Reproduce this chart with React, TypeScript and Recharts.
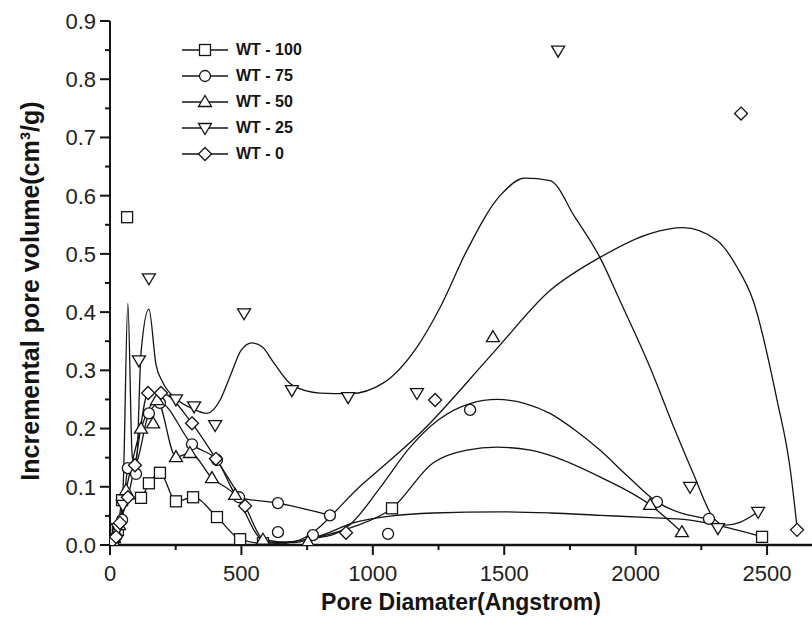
import { ComposedChart, Label, Legend, Line, Scatter, XAxis, YAxis } from "recharts";

type XY = [number, number];

// measured markers (pore diameter in Angstrom, volume in cm3/g)
const WT100_POINTS: XY[] = [
  [11, 0.007], [30, 0.026], [46, 0.077], [65, 0.563], [118, 0.081], [148, 0.106],
  [190, 0.124], [251, 0.075], [316, 0.082], [407, 0.048], [495, 0.01], [582, 0.003],
  [1073, 0.063], [2481, 0.014],
];
const WT75_POINTS: XY[] = [
  [23, 0.014], [46, 0.043], [68, 0.132], [99, 0.122], [148, 0.226], [190, 0.244],
  [312, 0.173], [407, 0.146], [491, 0.082], [639, 0.072], [639, 0.022], [772, 0.017],
  [837, 0.051], [1058, 0.019], [1370, 0.232], [2081, 0.074], [2279, 0.045],
];
const WT50_POINTS: XY[] = [
  [15, 0.012], [34, 0.034], [61, 0.094], [118, 0.2], [164, 0.209], [179, 0.249],
  [251, 0.151], [304, 0.158], [388, 0.115], [476, 0.086], [582, 0.009], [753, 0.005],
  [1457, 0.357], [2055, 0.069], [2176, 0.022],
];
const WT25_POINTS: XY[] = [
  [11, 0.009], [30, 0.029], [49, 0.069], [110, 0.317], [148, 0.458], [251, 0.25],
  [320, 0.238], [400, 0.206], [510, 0.398], [692, 0.266], [906, 0.254], [1168, 0.261],
  [1705, 0.849], [2207, 0.1], [2313, 0.029], [2466, 0.057],
];
const WT0_POINTS: XY[] = [
  [8, 0.007], [23, 0.014], [38, 0.038], [68, 0.082], [95, 0.137], [145, 0.261],
  [194, 0.261], [312, 0.209], [403, 0.148], [514, 0.067], [898, 0.021], [1237, 0.249],
  [2401, 0.741], [2614, 0.026],
];

// fitted curves
const WT100_CURVE: XY[] = [
  [0, 0], [11, 0.007], [30, 0.026], [46, 0.077], [118, 0.081], [148, 0.106],
  [190, 0.124], [251, 0.075], [316, 0.082], [407, 0.048], [495, 0.01], [582, 0.003],
  [700, 0.006], [800, 0.016], [925, 0.038], [1073, 0.05], [1229, 0.055], [1484, 0.057],
  [1674, 0.055], [1865, 0.051], [2055, 0.047], [2200, 0.043], [2300, 0.035], [2481, 0.014],
];
const WT75_CURVE: XY[] = [
  [0, 0], [23, 0.014], [46, 0.043], [68, 0.13], [99, 0.14], [148, 0.226], [190, 0.244],
  [312, 0.173], [407, 0.146], [491, 0.082], [639, 0.072], [837, 0.051],
];
const WT75_HUMP: XY[] = [
  [780, 0.012], [860, 0.02], [913, 0.035], [1030, 0.1], [1142, 0.168], [1250, 0.215],
  [1370, 0.243], [1473, 0.25], [1580, 0.243], [1674, 0.226], [1770, 0.197], [1864, 0.163],
  [1970, 0.118], [2081, 0.074], [2279, 0.045],
];
const WT50_CURVE: XY[] = [
  [0, 0], [15, 0.012], [34, 0.034], [61, 0.094], [118, 0.2], [179, 0.249], [251, 0.151],
  [304, 0.158], [388, 0.115], [476, 0.086], [582, 0.009], [700, 0.004], [780, 0.012],
  [925, 0.031], [1073, 0.063], [1229, 0.141], [1358, 0.163], [1473, 0.168], [1600, 0.163],
  [1674, 0.154], [1864, 0.117], [2055, 0.069], [2176, 0.022],
];
const WT25_CURVE: XY[] = [
  [0, 0], [30, 0.02], [50, 0.1], [68, 0.415], [85, 0.15], [100, 0.14], [118, 0.33],
  [148, 0.405], [175, 0.31], [200, 0.28], [255, 0.25], [310, 0.235], [369, 0.226],
  [420, 0.25], [457, 0.29], [500, 0.335], [540, 0.347], [580, 0.34], [620, 0.315],
  [692, 0.275], [799, 0.261], [913, 0.26], [1039, 0.278], [1168, 0.34], [1256, 0.408],
  [1358, 0.506], [1484, 0.6], [1579, 0.63], [1674, 0.626], [1769, 0.563], [1864, 0.494],
  [1940, 0.42], [2055, 0.305], [2150, 0.197], [2218, 0.124], [2294, 0.048], [2340, 0.034],
  [2397, 0.039], [2466, 0.057],
];
const WT0_CURVE: XY[] = [
  [0, 0], [8, 0.007], [23, 0.014], [38, 0.038], [68, 0.082], [95, 0.137], [145, 0.261],
  [194, 0.261], [312, 0.209], [403, 0.148], [514, 0.067], [582, 0.01], [650, 0.002],
  [723, 0.009], [957, 0.103], [1191, 0.197], [1458, 0.33], [1674, 0.437], [1864, 0.494],
  [2055, 0.535], [2180, 0.545], [2310, 0.523], [2386, 0.477], [2447, 0.42], [2538, 0.249],
  [2587, 0.134], [2614, 0.031],
];

const X_TICKS = [0, 250, 500, 750, 1000, 1250, 1500, 1750, 2000, 2250, 2500];
const Y_TICKS = [0, 0.05, 0.1, 0.15, 0.2, 0.25, 0.3, 0.35, 0.4, 0.45, 0.5, 0.55, 0.6, 0.65, 0.7, 0.75, 0.8, 0.85, 0.9];

type Kind = "square" | "circle" | "up" | "down" | "diamond";

const SERIES: { name: string; kind: Kind; points: XY[]; curves: XY[][] }[] = [
  { name: "WT - 100", kind: "square", points: WT100_POINTS, curves: [WT100_CURVE] },
  { name: "WT - 75", kind: "circle", points: WT75_POINTS, curves: [WT75_CURVE, WT75_HUMP] },
  { name: "WT - 50", kind: "up", points: WT50_POINTS, curves: [WT50_CURVE] },
  { name: "WT - 25", kind: "down", points: WT25_POINTS, curves: [WT25_CURVE] },
  { name: "WT - 0", kind: "diamond", points: WT0_POINTS, curves: [WT0_CURVE] },
];

const INK = "#141414";
const FONT = '"Liberation Sans", Arial, Helvetica, sans-serif';

const W = 812;
const H = 637;
const MARGIN = { top: 21, right: 0, left: 0, bottom: 22 };
const X_AXIS_H = 70;
const Y_AXIS_W = 110;
const PLOT_BOTTOM = H - MARGIN.bottom - X_AXIS_H;

const toXY = (d: XY[]) => d.map(([x, y]) => ({ x, y }));

function Marker({ kind, cx, cy }: { kind: Kind; cx: number; cy: number }) {
  const r = 5.5;
  const st = { fill: "#fff", stroke: INK, strokeWidth: 1.3 };
  if (kind === "square") return <rect x={cx - r} y={cy - r} width={2 * r} height={2 * r} {...st} />;
  if (kind === "circle") return <circle cx={cx} cy={cy} r={r} {...st} />;
  if (kind === "up")
    return <polygon points={`${cx},${cy - r - 1} ${cx + r + 1},${cy + r - 1} ${cx - r - 1},${cy + r - 1}`} {...st} />;
  if (kind === "down")
    return <polygon points={`${cx - r - 1},${cy - r + 1} ${cx + r + 1},${cy - r + 1} ${cx},${cy + r + 1}`} {...st} />;
  return <polygon points={`${cx},${cy - r - 1} ${cx + r + 1},${cy} ${cx},${cy + r + 1} ${cx - r - 1},${cy}`} {...st} />;
}

// x ticks are drawn off the plot bottom so minor marks can be shorter
function XTick({ x, payload }: any) {
  const major = payload.value % 500 === 0;
  const y = PLOT_BOTTOM;
  return (
    <g>
      <line x1={x} y1={y} x2={x} y2={y + (major ? 10 : 5)} stroke={INK} strokeWidth={2} />
      {major && (
        <text x={x} y={y + 36} textAnchor="middle" fontSize={22} fill="#222" fontFamily={FONT}>
          {payload.value}
        </text>
      )}
    </g>
  );
}

function YTick({ y, payload }: any) {
  const major = Math.round(payload.value * 100) % 10 === 0;
  const x = Y_AXIS_W;
  return (
    <g>
      <line x1={x} y1={y} x2={x - (major ? 10 : 5)} y2={y} stroke={INK} strokeWidth={2} />
      {major && (
        <text x={x - 14} y={y} dy="0.36em" textAnchor="end" fontSize={22} fill="#222" fontFamily={FONT}>
          {payload.value.toFixed(1)}
        </text>
      )}
    </g>
  );
}

function LegendBox() {
  return (
    <div style={{ fontFamily: FONT, fontWeight: 700, fontSize: 16, color: INK }}>
      {SERIES.map((s) => (
        <div key={s.name} style={{ display: "flex", alignItems: "center", height: 26 }}>
          <svg width={48} height={16}>
            <line x1={0} y1={8} x2={46} y2={8} stroke={INK} strokeWidth={1.3} />
            <Marker kind={s.kind} cx={23} cy={8} />
          </svg>
          <span style={{ marginLeft: 6 }}>{s.name}</span>
        </div>
      ))}
    </div>
  );
}

export default function App() {
  return (
    <div style={{ position: "fixed", left: 0, top: 0, width: W, height: H, background: "#fff" }}>
      <ComposedChart width={W} height={H} margin={MARGIN}>
        <XAxis
          dataKey="x"
          type="number"
          domain={[0, 2671]}
          ticks={X_TICKS}
          allowDataOverflow
          height={X_AXIS_H}
          tickSize={0}
          tickMargin={0}
          tick={<XTick />}
          axisLine={{ stroke: INK, strokeWidth: 2.5 }}
        >
          <Label
            content={() => (
              <text x={461} y={602} dy="0.36em" textAnchor="middle" fontSize={23} fontWeight={700} fill={INK} fontFamily={FONT}>
                Pore Diamater(Angstrom)
              </text>
            )}
          />
        </XAxis>
        <XAxis
          xAxisId="top"
          orientation="top"
          dataKey="x"
          type="number"
          domain={[0, 2671]}
          height={0}
          tick={false}
          tickLine={false}
          axisLine={{ stroke: INK, strokeWidth: 2 }}
        />
        <YAxis
          type="number"
          domain={[0, 0.9]}
          ticks={Y_TICKS}
          allowDataOverflow
          width={Y_AXIS_W}
          tickSize={0}
          tickMargin={0}
          tick={<YTick />}
          axisLine={{ stroke: INK, strokeWidth: 2 }}
        >
          <Label
            content={() => (
              <text
                x={30}
                y={291}
                dy="0.36em"
                transform="rotate(-90 30 291)"
                textAnchor="middle"
                fontSize={25}
                fontWeight={700}
                fill={INK}
                fontFamily={FONT}
              >
                Incremental pore volume(cm³/g)
              </text>
            )}
          />
        </YAxis>
        <Legend
          layout="vertical"
          align="center"
          verticalAlign="middle"
          content={<LegendBox />}
          wrapperStyle={{ left: 182, top: 37, width: 160 }}
        />
        {SERIES.flatMap((s) =>
          s.curves.map((c, i) => (
            <Line
              key={`${s.name}-${i}`}
              data={toXY(c)}
              dataKey="y"
              type="monotone"
              stroke={INK}
              strokeWidth={1.3}
              dot={false}
              activeDot={false}
              legendType="none"
              isAnimationActive={false}
            />
          ))
        )}
        {SERIES.map((s) => (
          <Scatter
            key={s.name}
            name={s.name}
            data={toXY(s.points)}
            dataKey="y"
            shape={(p: any) => <Marker kind={s.kind} cx={p.cx} cy={p.cy} />}
            isAnimationActive={false}
          />
        ))}
      </ComposedChart>
    </div>
  );
}
